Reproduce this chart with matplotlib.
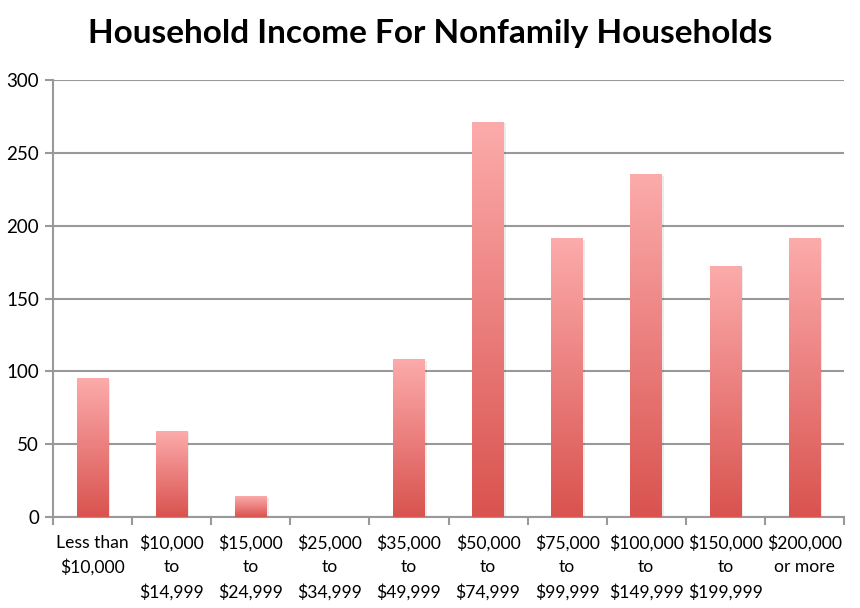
import numpy as np
import matplotlib
matplotlib.use("Agg")
import matplotlib.pyplot as plt
from matplotlib.colors import LinearSegmentedColormap

categories = ["Less than\n$10,000", "$10,000\nto\n$14,999", "$15,000\nto\n$24,999",
              "$25,000\nto\n$34,999", "$35,000\nto\n$49,999", "$50,000\nto\n$74,999",
              "$75,000\nto\n$99,999", "$100,000\nto\n$149,999", "$150,000\nto\n$199,999",
              "$200,000\nor more"]
values = [95, 59, 14, 0, 108, 271, 191, 235, 172, 191]
yticks = [0, 50, 100, 150, 200, 250, 300]

plt.rcParams['font.family'] = ['Lato', 'DejaVu Sans']

fig = plt.figure(figsize=(8.6, 6.08), dpi=100)
ax = fig.add_axes([53/860, 91/608, 791/860, 437/608])

cmap = LinearSegmentedColormap.from_list("g", ["#d9534f", "#fcabab"])
grad = np.linspace(0, 1, 256).reshape(-1, 1)
bw = 0.40
x = np.arange(len(values))
for xi, v in zip(x, values):
    if v <= 0:
        continue
    # shadow
    ax.add_patch(plt.Rectangle((xi - bw/2 + 0.025, 0), bw, v - 0.8, color="#000000",
                               alpha=0.08, lw=0, zorder=2))
    ax.imshow(grad, extent=(xi - bw/2, xi + bw/2, 0, v), origin="lower",
              aspect="auto", cmap=cmap, zorder=3, interpolation="bicubic")

ax.set_xlim(-0.5, len(values) - 0.5)
ax.set_ylim(0, 300)
ax.set_yticks(yticks)
ax.set_yticklabels([str(t) for t in yticks], fontsize=13.5)
ax.yaxis.grid(True, color="#999999", lw=1.5, zorder=0)
ax.set_axisbelow(True)
ax.set_xticks(np.arange(len(values) + 1) - 0.5)
ax.set_xticklabels([])
ax.set_xticks(x, minor=True)
ax.set_xticklabels(categories, minor=True, fontsize=12.6, linespacing=1.58)
ax.tick_params(axis="x", which="minor", length=0, pad=13)
ax.tick_params(axis="x", which="major", length=6, width=1.5, color="#999999")
ax.tick_params(axis="y", length=6, width=1.5, color="#999999", pad=4)
for s in ["top", "right"]:
    ax.spines[s].set_visible(False)
for s in ["left", "bottom"]:
    ax.spines[s].set_color("#999999")
    ax.spines[s].set_linewidth(1.5)

fig.text(0.5, 1 - 33/608, "Household Income For Nonfamily Households", ha="center",
         va="center", fontsize=24, fontweight="bold")

fig.savefig("out.png", dpi=100)
